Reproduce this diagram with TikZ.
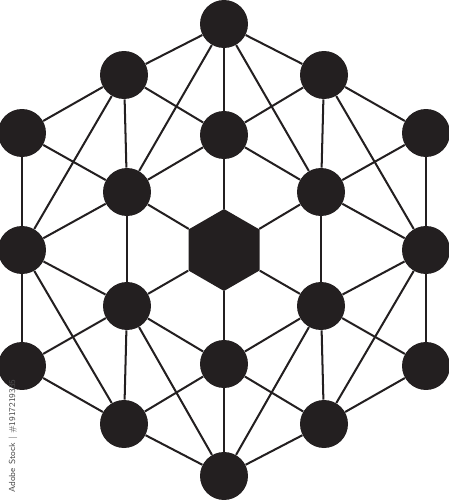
\documentclass[tikz,border=0pt]{standalone}
\usepackage{tikz}
\usetikzlibrary{shapes.geometric}
\definecolor{ink}{RGB}{35,31,32}
\tikzset{
	atom/.style={circle, fill=ink, inner sep=0pt, minimum size=0.96cm},
	core/.style={regular polygon, regular polygon sides=6, shape border rotate=30, fill=ink, inner sep=0pt, minimum size=1.64cm},
	bond/.style={draw=ink, line width=1.15pt}
}
\begin{document}
\begin{tikzpicture}[x=0.02cm, y=-0.02cm]
		\useasboundingbox (0,0) rectangle (449,500);
		%draw outer atoms
		\node[atom] (T) at (224,24) {};
		\node[atom] (UL) at (124,75) {};
		\node[atom] (UR) at (324,75) {};
		\node[atom] (L1) at (22,133) {};
		\node[atom] (R1) at (426,133) {};
		\node[atom] (L2) at (22,250) {};
		\node[atom] (R2) at (426,250) {};
		\node[atom] (L3) at (22,366) {};
		\node[atom] (R3) at (426,366) {};
		\node[atom] (LL) at (124,424) {};
		\node[atom] (LR) at (324,424) {};
		\node[atom] (B) at (224,476) {};
		%draw inner atoms
		\node[atom] (C1) at (224,135) {};
		\node[atom] (IUL) at (127,192) {};
		\node[atom] (IUR) at (321,192) {};
		\node[atom] (ILL) at (127,306) {};
		\node[atom] (ILR) at (321,306) {};
		\node[atom] (C3) at (224,364) {};
		%draw hexagon core
		\node[core] (H) at (224,250) {};
		%draw outer ring
		\foreach \a/\b in {T/UR, UR/R1, R1/R2, R2/R3, R3/LR, LR/B, B/LL, LL/L3, L3/L2, L2/L1, L1/UL, UL/T}{
			\draw[bond] (\a) -- (\b);
		}
		%draw inner ring and hub
		\foreach \a/\b in {C1/IUR, IUR/ILR, ILR/C3, C3/ILL, ILL/IUL, IUL/C1}{
			\draw[bond] (\a) -- (\b);
			\draw[bond] (H) -- (\a);
		}
		%draw spokes
		\foreach \a/\b in {T/C1, T/IUL, T/IUR, UL/C1, UL/IUL, UR/C1, UR/IUR, L1/IUL, R1/IUR, L2/IUL, R2/IUR, L2/ILL, R2/ILR, L3/ILL, R3/ILR, LL/ILL, LR/ILR, LL/C3, LR/C3, B/C3, B/ILL, B/ILR, UL/L2, UR/R2, L2/LL, R2/LR}{
			\draw[bond] (\a) -- (\b);
		}
		%draw stock label
		\node[rotate=90, text=black!70, font=\sffamily\fontsize{5}{6}\selectfont, inner sep=0pt] (tag) at (13,436) {Adobe Stock | \#1917219335};
\end{tikzpicture}
\end{document}
